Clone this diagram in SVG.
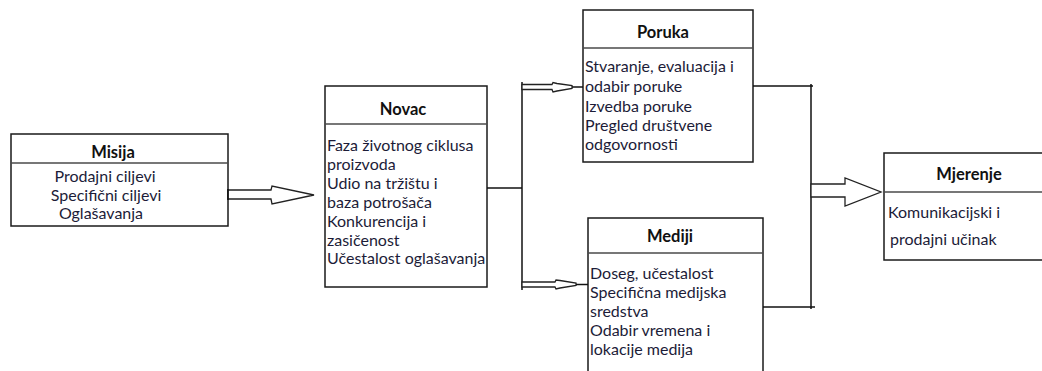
<svg xmlns="http://www.w3.org/2000/svg" width="1042" height="371" viewBox="0 0 1042 371">
<style>
.box{fill:#fff;stroke:#1a1a1a;stroke-width:1.5}
.hdr{stroke:#4a4a4a;stroke-width:1.5}
.ttl{font-family:Lato,"Open Sans",sans-serif;font-weight:bold;font-size:16.5px;fill:#111;text-anchor:middle}
.txt{font-family:Lato,"Open Sans",sans-serif;font-size:16px;fill:#1c1c38}
.mid{text-anchor:middle}
.ln{stroke:#111;stroke-width:1.5;fill:none}
.blk{fill:#fff;stroke:#222;stroke-width:1.3}
</style>
<rect width="1042" height="371" fill="#fff"/>
<g id="misija">
<rect class="box" x="11" y="134" width="217" height="92"/>
<line class="hdr" x1="11" y1="163" x2="228" y2="163"/>
<text class="ttl" x="113" y="158">Misija</text>
<text class="txt mid" x="105" y="182">Prodajni ciljevi</text>
<text class="txt mid" x="106" y="201">Specifični ciljevi</text>
<text class="txt mid" x="101" y="219">Oglašavanja</text>
</g>
<g id="novac">
<rect class="box" x="325" y="86" width="162" height="201"/>
<line class="hdr" x1="325" y1="124" x2="487" y2="124"/>
<text class="ttl" x="403" y="115">Novac</text>
<text class="txt" x="327" y="151">Faza životnog ciklusa</text>
<text class="txt" x="327" y="170">proizvoda</text>
<text class="txt" x="327" y="189">Udio na tržištu i</text>
<text class="txt" x="327" y="208">baza potrošača</text>
<text class="txt" x="327" y="227">Konkurencija i</text>
<text class="txt" x="327" y="246">zasičenost</text>
<text class="txt" x="327" y="264">Učestalost oglašavanja</text>
</g>
<g id="poruka">
<rect class="box" x="583" y="10" width="170" height="152"/>
<line class="hdr" x1="583" y1="48" x2="753" y2="48"/>
<text class="ttl" x="663" y="38">Poruka</text>
<text class="txt" x="585" y="72">Stvaranje, evaluacija i</text>
<text class="txt" x="585" y="92">odabir poruke</text>
<text class="txt" x="585" y="112">Izvedba poruke</text>
<text class="txt" x="585" y="131">Pregled društvene</text>
<text class="txt" x="585" y="150">odgovornosti</text>
</g>
<g id="mediji">
<rect class="box" x="588" y="218" width="175" height="160"/>
<line class="hdr" x1="588" y1="253" x2="763" y2="253"/>
<text class="ttl" x="670" y="242">Mediji</text>
<text class="txt" x="590" y="279">Doseg, učestalost</text>
<text class="txt" x="590" y="298">Specifična medijska</text>
<text class="txt" x="590" y="317">sredstva</text>
<text class="txt" x="590" y="336">Odabir vremena i</text>
<text class="txt" x="590" y="355">lokacije medija</text>
</g>
<g id="mjerenje">
<rect class="box" x="884" y="153" width="165" height="107"/>
<line class="hdr" x1="884" y1="192" x2="1049" y2="192"/>
<text class="ttl" x="969" y="180">Mjerenje</text>
<text class="txt" x="888" y="218">Komunikacijski i</text>
<text class="txt" x="890" y="245">prodajni učinak</text>
</g>
<g id="connectors">
<polygon class="blk" points="228,190 271,190 272,186 314,195 272,204 271,199 228,199"/>
<line class="ln" x1="228" y1="189" x2="228" y2="200" stroke-width="2"/>
<polyline class="ln" points="487,188 522,188"/>
<line class="ln" x1="522" y1="82" x2="522" y2="290"/>
<polygon class="blk" points="522,84.5 552,84.5 553,82.5 557,83.5 572,85.5 572,88.5 557,91 553,92 552,89.5 522,89.5"/>
<line class="ln" x1="572" y1="87" x2="583" y2="87" stroke-width="2"/>
<polygon class="blk" points="522,282 555,282 556,280 560,280.5 576,283 576,285.5 560,288 556,289 555,287 522,287"/>
<line class="ln" x1="576" y1="284.5" x2="588" y2="284.5" stroke-width="1.8"/>
<polyline class="ln" points="753,86 813,86"/>
<polyline class="ln" points="763,307 815,307"/>
<line class="ln" x1="811" y1="84" x2="811" y2="309"/>
<polygon class="blk" points="811,184 845,184 845,178 881,192 845,206 845,197 811,197"/>
</g>
</svg>
